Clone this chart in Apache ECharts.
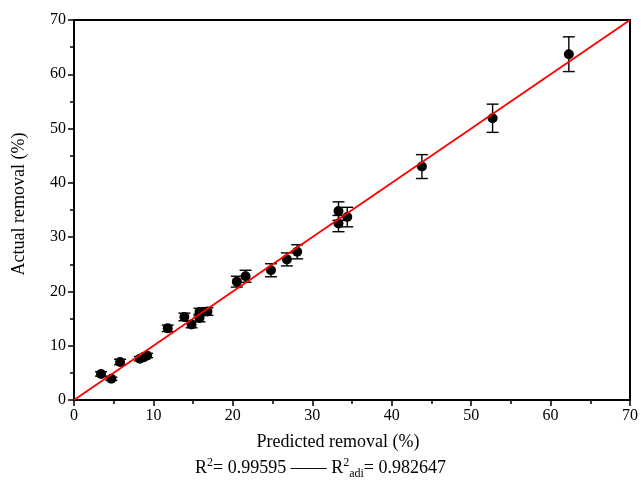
<!DOCTYPE html>
<html><head><meta charset="utf-8">
<script src="https://cdn.jsdelivr.net/npm/echarts@6/dist/echarts.min.js"></script>
<style>html,body{margin:0;padding:0;background:#fff}#c{width:641px;height:484px}</style>
</head><body><div id="c"></div>
<script>
var predicted = [3.4, 4.7, 5.8, 8.3, 8.8, 9.2, 11.8, 13.9, 14.8, 15.8, 15.8, 16.8, 20.5, 21.6, 24.8, 26.8, 28.1, 33.3, 33.3, 34.4, 43.8, 52.7, 62.3];
var actual = [4.8, 3.9, 7.0, 7.6, 7.9, 8.2, 13.2, 15.3, 13.9, 15.1, 16.2, 16.3, 21.8, 22.8, 23.9, 25.9, 27.3, 34.8, 32.5, 33.7, 43.0, 51.9, 63.7];
var errors = [0.4, 0.3, 0.5, 0.4, 0.4, 0.4, 0.6, 0.7, 0.6, 0.7, 0.7, 0.7, 1.0, 1.1, 1.2, 1.2, 1.3, 1.7, 1.5, 1.8, 2.2, 2.6, 3.2];
var fitLine = [[0, 0], [70, 70]];
var xTicks = [0, 10, 20, 30, 40, 50, 60, 70];
var yTicks = [0, 10, 20, 30, 40, 50, 60, 70];

var pts = predicted.map(function (x, i) { return [x, actual[i]]; });
var errData = predicted.map(function (x, i) { return [x, actual[i] - errors[i], actual[i] + errors[i]]; });
var font = 'Liberation Serif';
var chart = echarts.init(document.getElementById('c'), null, { renderer: 'canvas' });
chart.setOption({
  animation: false,
  backgroundColor: '#fff',
  grid: { left: 74, right: 9, top: 20, bottom: 84, show: true, borderColor: '#000', borderWidth: 2, backgroundColor: 'transparent' },
  xAxis: {
    type: 'value', min: xTicks[0], max: xTicks[xTicks.length - 1], interval: 10,
    name: 'Predicted removal (%)', nameLocation: 'middle', nameGap: 33,
    nameTextStyle: { fontFamily: font, fontSize: 18, color: '#000', padding: [0, 28, 0, 0] },
    axisLine: { lineStyle: { color: '#000', width: 2 } },
    axisTick: { show: true, inside: false, length: 6, lineStyle: { color: '#000', width: 1.5 } },
    minorTick: { show: true, splitNumber: 2, length: 4, lineStyle: { color: '#000', width: 1.5 } },
    axisLabel: { fontFamily: font, fontSize: 16, color: '#000', margin: 8 },
    splitLine: { show: false }
  },
  yAxis: {
    type: 'value', min: yTicks[0], max: yTicks[yTicks.length - 1], interval: 10,
    name: 'Actual removal (%)', nameLocation: 'middle', nameGap: 46, nameRotate: 90,
    nameTextStyle: { fontFamily: font, fontSize: 18, color: '#000', padding: [0, 0, 0, 12] },
    axisLine: { lineStyle: { color: '#000', width: 2 } },
    axisTick: { show: true, inside: false, length: 6, lineStyle: { color: '#000', width: 1.5 } },
    minorTick: { show: true, splitNumber: 2, length: 4, lineStyle: { color: '#000', width: 1.5 } },
    axisLabel: { fontFamily: font, fontSize: 16, color: '#000', margin: 8 },
    splitLine: { show: false }
  },
  series: [
    {
      type: 'custom', data: errData, z: 3,
      renderItem: function (params, api) {
        var x = api.value(0);
        var lo = api.coord([x, api.value(1)]);
        var hi = api.coord([x, api.value(2)]);
        var w = 6;
        var st = { stroke: '#000', lineWidth: 1.4 };
        return { type: 'group', children: [
          { type: 'line', shape: { x1: lo[0], y1: lo[1], x2: hi[0], y2: hi[1] }, style: st },
          { type: 'line', shape: { x1: lo[0] - w, y1: lo[1], x2: lo[0] + w, y2: lo[1] }, style: st },
          { type: 'line', shape: { x1: hi[0] - w, y1: hi[1], x2: hi[0] + w, y2: hi[1] }, style: st }
        ]};
      }
    },
    { type: 'scatter', data: pts, symbol: 'circle', symbolSize: 10, itemStyle: { color: '#000', opacity: 1 }, z: 4 },
    { type: 'line', data: fitLine, symbol: 'none', lineStyle: { color: '#ff0000', width: 1.8 }, z: 5 }
  ],
  graphic: [{
    type: 'text', left: 'center', top: 457,
    style: {
      text: 'R{sup|2}= 0.99595 –––– R{sup|2}{sub|adi}= 0.982647',
      font: '18px "Liberation Serif"', fill: '#000',
      rich: {
        sup: { fontSize: 12, fontFamily: font, padding: [0, 0, 10, 0], fill: '#000' },
        sub: { fontSize: 12, fontFamily: font, padding: [12, 0, 0, 0], fill: '#000' }
      }
    }
  }]
});
</script></body></html>
